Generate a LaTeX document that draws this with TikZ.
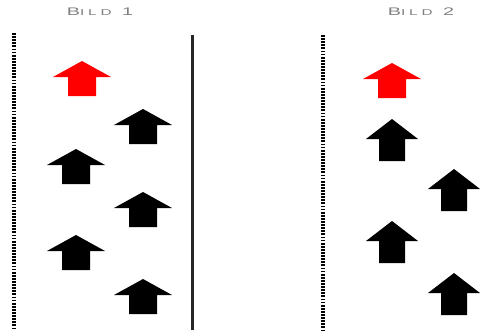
\documentclass[tikz,border=0pt]{standalone}
\usepackage{fontspec}
\newfontfamily\bildfont[LetterSpace=45,FakeStretch=1.8]{Liberation Sans}
\begin{document}
\begin{tikzpicture}[x=1pt,y=-1pt,
  dotline/.style={line width=3.4pt,dash pattern=on 1.8pt off 1.3pt,black},
  wall/.style={line width=3pt,black!85},
  bild/.style={text=black!50,font=\bildfont\fontsize{11}{11}\selectfont,inner sep=0pt},
  arrA/.pic={\fill[pic actions] (0,0) -- (29,16) -- (14,16) -- (14,35) -- (-14,35) -- (-14,16) -- (-29,16) -- cycle;},
  arrB/.pic={\fill[pic actions] (0,0) -- (26,20) -- (13,20) -- (13,42) -- (-13,42) -- (-13,20) -- (-26,20) -- cycle;}]
\useasboundingbox (0,0) rectangle (497,330);
\fill[white] (0,0) rectangle (497,330);
% titles
\node[bild] (t1) at (100,12) {B{\fontsize{8.5}{8.5}\selectfont ILD} 1};
\node[bild] (t2) at (421,12) {B{\fontsize{8.5}{8.5}\selectfont ILD} 2};
% lines
\coordinate (d1a) at (14,33); \coordinate (d1b) at (14,330);
\coordinate (wa) at (192,35); \coordinate (wb) at (192,330);
\coordinate (d2a) at (323,35); \coordinate (d2b) at (323,330);
\draw[dotline] (d1a) -- (d1b);
\draw[wall] (wa) -- (wb);
\draw[dotline] (d2a) -- (d2b);
% left panel arrows
\pic[fill=red] at (82,61) {arrA};
\pic[fill=black] at (143,109) {arrA};
\pic[fill=black] at (76,149) {arrA};
\pic[fill=black] at (143,192) {arrA};
\pic[fill=black] at (76,235) {arrA};
\pic[fill=black] at (143,279) {arrA};
% right panel arrows
\pic[fill=red] at (392,63) {arrA};
\pic[fill=black] at (392,119) {arrB};
\pic[fill=black] at (454,169) {arrB};
\pic[fill=black] at (392,221) {arrB};
\pic[fill=black] at (454,273) {arrB};
\end{tikzpicture}
\end{document}
